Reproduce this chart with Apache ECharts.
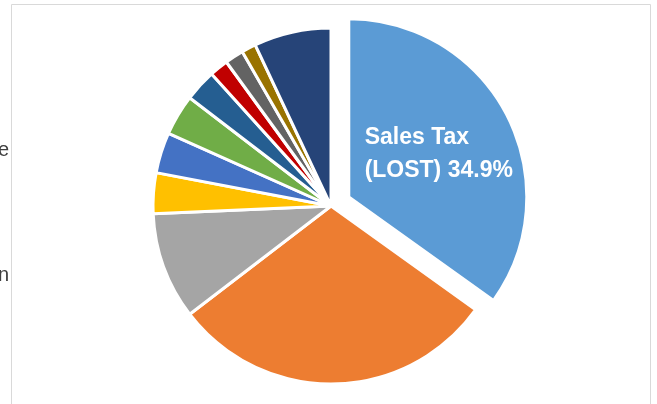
<!DOCTYPE html>
<html>
<head>
<meta charset="utf-8">
<script src="https://cdn.jsdelivr.net/npm/echarts@6/dist/echarts.min.js"></script>
<style>html,body{margin:0;padding:0;background:#fff;}#c{width:657px;height:404px;}</style>
</head>
<body>
<div id="c"></div>
<script>
const categories = ['Sales Tax (LOST)', 'Slice 2', 'Slice 3', 'Slice 4', 'Slice 5', 'Slice 6', 'Slice 7', 'Slice 8', 'Slice 9', 'Slice 10', 'Slice 11'];
const values = [34.9, 29.7, 9.7, 3.7, 3.7, 3.7, 2.9, 1.7, 1.7, 1.3, 7.0];
const colors = ['#5B9BD5', '#ED7D31', '#A5A5A5', '#FFC000', '#4472C4', '#70AD47', '#255E91', '#C00000', '#636363', '#997300', '#264478'];
const leftLabels = ['e', 'n'];

const chart = echarts.init(document.getElementById('c'), null, {renderer: 'canvas'});
const data = values.map((v, i) => {
  const item = {name: categories[i], value: v, itemStyle: {color: colors[i]}};
  if (i === 0) {
    item.selected = true;
    item.label = {
      show: true,
      position: 'inside',
      formatter: '{a|Sales Tax}\n{a|(LOST) 34.9%}',
      padding: [0, 0, 2, 18],
      rich: {
        a: {
          color: '#fff',
          fontFamily: 'Liberation Sans, Arial, sans-serif',
          fontWeight: 'bold',
          fontSize: 23,
          lineHeight: 33,
          width: 150,
          align: 'left'
        }
      }
    };
  }
  return item;
});
chart.setOption({
  animation: false,
  graphic: [
    {type: 'rect', shape: {x: 11.5, y: 4.5, width: 639, height: 420}, style: {fill: 'none', stroke: '#d9d9d9', lineWidth: 1}, silent: true},
    {type: 'text', x: 9, y: 150, style: {text: leftLabels[0], align: 'right', verticalAlign: 'middle', fill: '#404040', font: '20px Liberation Sans, Arial, sans-serif'}},
    {type: 'text', x: 9, y: 275, style: {text: leftLabels[1], align: 'right', verticalAlign: 'middle', fill: '#404040', font: '20px Liberation Sans, Arial, sans-serif'}}
  ],
  series: [{
    type: 'pie',
    center: [331, 206],
    radius: [0, 178],
    startAngle: 90,
    clockwise: true,
    selectedMode: 'single',
    selectedOffset: 20,
    avoidLabelOverlap: false,
    label: {show: false},
    labelLine: {show: false},
    emphasis: {disabled: true},
    itemStyle: {borderColor: '#fff', borderWidth: 3},
    data: data
  }]
});
</script>
</body>
</html>
